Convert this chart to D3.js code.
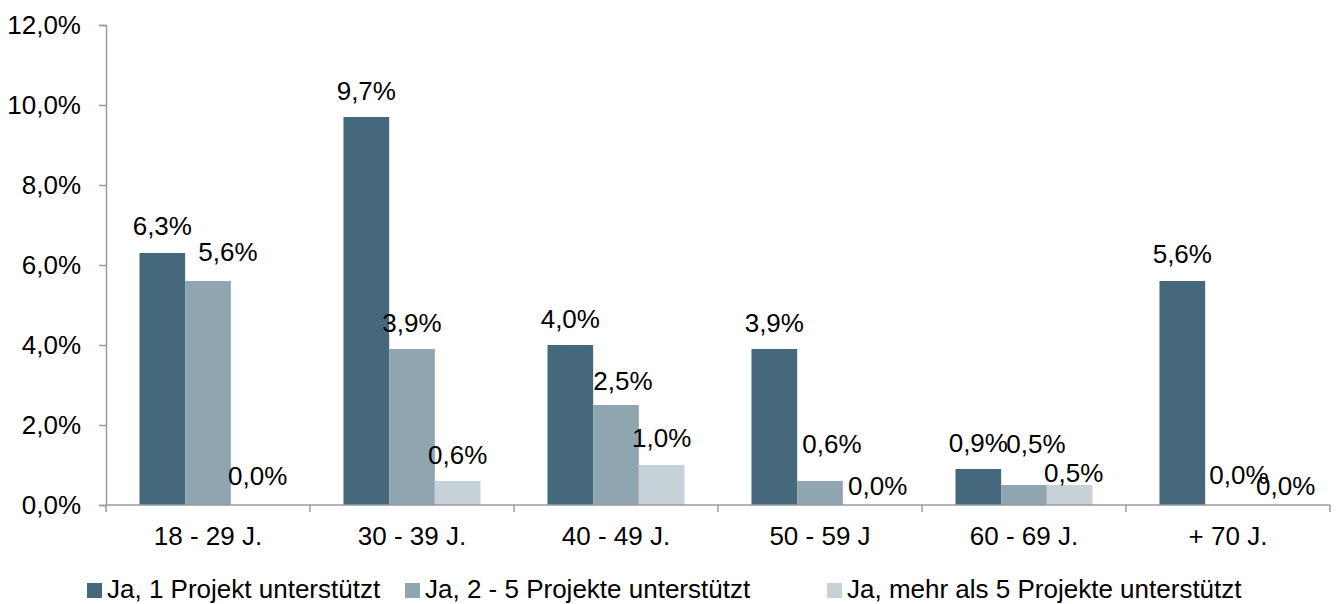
<!DOCTYPE html>
<html>
<head>
<meta charset="utf-8">
<script src="https://cdn.jsdelivr.net/npm/d3@7/dist/d3.min.js"></script>
<style>
  html, body { margin: 0; padding: 0; background: #ffffff; }
  svg { display: block; font-family: "Liberation Sans", Arial, sans-serif; }
</style>
</head>
<body>
<svg id="chart" width="1338" height="604"></svg>
<script>
const categories = ["18 - 29 J.", "30 - 39 J.", "40 - 49 J.", "50 - 59 J", "60 - 69 J.", "+ 70 J."];
const seriesNames = ["Ja, 1 Projekt unterstützt", "Ja, 2 - 5 Projekte unterstützt", "Ja, mehr als 5 Projekte unterstützt"];
const series1 = [6.3, 9.7, 4.0, 3.9, 0.9, 5.6];
const series2 = [5.6, 3.9, 2.5, 0.6, 0.5, 0.0];
const series3 = [0.0, 0.6, 1.0, 0.0, 0.5, 0.0];
const yTicks = [0, 2, 4, 6, 8, 10, 12];
const colors = ["#46687c", "#8fa5b0", "#c6d2d8"];

const seriesValues = [series1, series2, series3];

// label nudges (Excel manually placed / overlap-avoided labels): "categoryIndex-seriesIndex" -> [dx, dy]
const nudge = {
  "0-0": [0, -1], "0-1": [20, -3], "0-2": [4, -3],
  "2-1": [7, 2],  "2-2": [0, -1],
  "3-1": [12, -11], "3-2": [12, 7],
  "4-1": [12, -15], "4-2": [4, 14],
  "5-0": [0, -1], "5-1": [11, -4], "5-2": [12, 7]
};

const svg = d3.select("#chart");
const margin = {left: 106, right: 8, top: 25, bottom: 99};
const W = 1338, H = 604;
const plotW = W - margin.left - margin.right;
const plotH = H - margin.top - margin.bottom;
const fontSize = 26;

const x0 = d3.scaleBand().domain(categories).range([margin.left, margin.left + plotW]).padding(0);
const x1 = d3.scaleBand().domain([0, 1, 2]).range([0, x0.bandwidth()]).paddingInner(0).paddingOuter(0.733);
const y = d3.scaleLinear().domain([0, 12]).range([margin.top + plotH, margin.top]);

const fmt = v => v.toFixed(1).replace(".", ",") + "%";

// bars
const groups = svg.append("g").selectAll("g")
  .data(categories)
  .join("g")
  .attr("transform", d => `translate(${x0(d)},0)`);

groups.selectAll("rect")
  .data((c, ci) => seriesValues.map((s, si) => ({ci, si, v: s[ci]})))
  .join("rect")
  .attr("x", d => x1(d.si))
  .attr("width", x1.bandwidth())
  .attr("y", d => y(d.v))
  .attr("height", d => y(0) - y(d.v))
  .attr("fill", d => colors[d.si]);

// axes
const axisColor = "#9a9a9a";
const yAxis = svg.append("g")
  .attr("transform", `translate(${margin.left},0)`)
  .call(d3.axisLeft(y).tickValues(yTicks).tickSize(7).tickPadding(18).tickFormat(fmt));
yAxis.select(".domain").attr("stroke", axisColor).attr("stroke-width", 1.5);
yAxis.selectAll(".tick line").attr("stroke", axisColor).attr("stroke-width", 1.5);
yAxis.selectAll(".tick text").attr("fill", "#000").style("font-size", fontSize + "px")
  .style("font-family", '"Liberation Sans", Arial, sans-serif');

const xBoundary = d3.scaleLinear().domain([0, categories.length]).range([margin.left, margin.left + plotW]);
const xAxisG = svg.append("g").attr("transform", `translate(0,${y(0)})`);
xAxisG.append("line")
  .attr("x1", margin.left).attr("x2", margin.left + plotW)
  .attr("stroke", axisColor).attr("stroke-width", 1.5);
xAxisG.selectAll("line.tk")
  .data(d3.range(categories.length + 1))
  .join("line").attr("class", "tk")
  .attr("x1", d => xBoundary(d)).attr("x2", d => xBoundary(d))
  .attr("y1", 0).attr("y2", 7)
  .attr("stroke", axisColor).attr("stroke-width", 1.5);
xAxisG.selectAll("text")
  .data(categories)
  .join("text")
  .attr("x", d => x0(d) + x0.bandwidth() / 2)
  .attr("y", 40)
  .attr("text-anchor", "middle")
  .style("font-size", fontSize + "px")
  .attr("fill", "#000")
  .text(d => d);

// value labels
groups.selectAll("text.val")
  .data((c, ci) => seriesValues.map((s, si) => ({ci, si, v: s[ci]})))
  .join("text").attr("class", "val")
  .attr("x", d => x1(d.si) + x1.bandwidth() / 2 + (nudge[d.ci + "-" + d.si] || [0, 0])[0])
  .attr("y", d => y(d.v) - 17 + (nudge[d.ci + "-" + d.si] || [0, 0])[1])
  .attr("text-anchor", "middle")
  .style("font-size", fontSize + "px")
  .attr("fill", "#000")
  .text(d => fmt(d.v));

// legend
const legendX = [87, 405, 827];
const legend = svg.append("g");
seriesNames.forEach((name, i) => {
  const g = legend.append("g").attr("transform", `translate(${legendX[i]},0)`);
  g.append("rect").attr("x", 0).attr("y", 583).attr("width", 15).attr("height", 15).attr("fill", colors[i]);
  g.append("text").attr("x", 20).attr("y", 598)
    .style("font-size", fontSize + "px").attr("fill", "#000").text(name);
});
</script>
</body>
</html>
